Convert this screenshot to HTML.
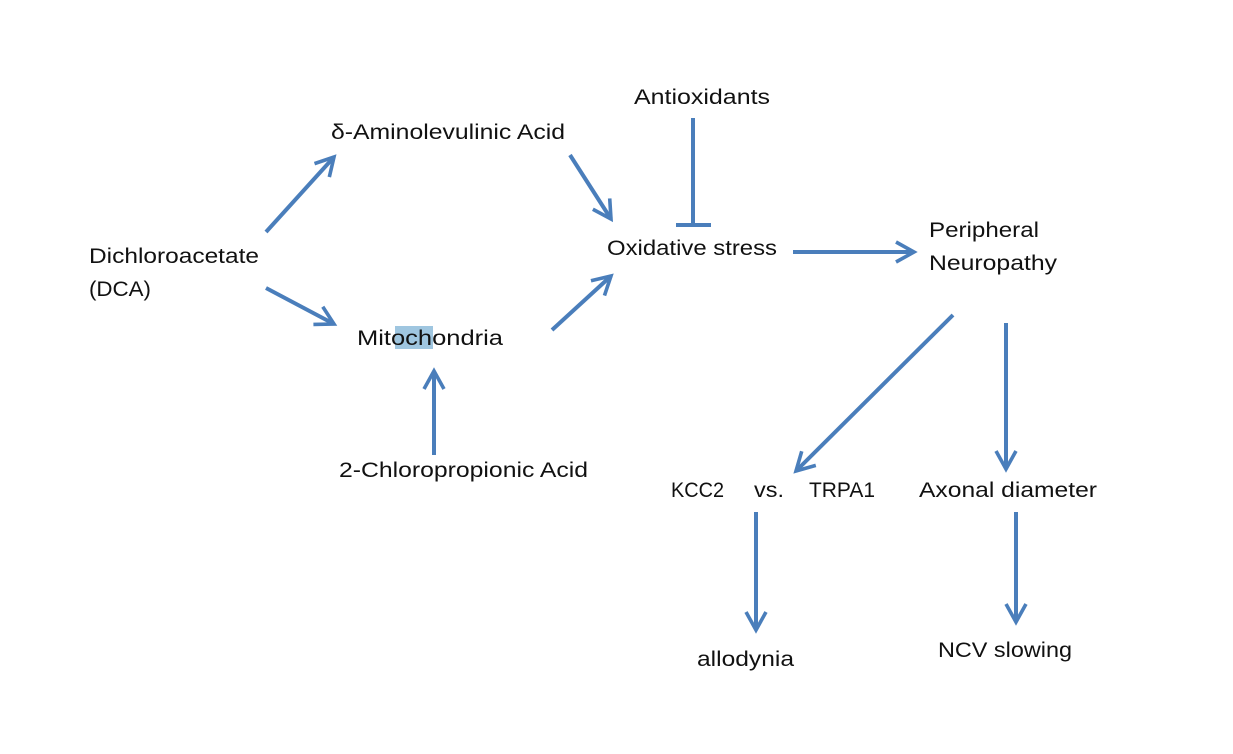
<!DOCTYPE html>
<html><head><meta charset="utf-8"><style>html,body{margin:0;padding:0;background:#fff}</style></head>
<body>
<svg width="1233" height="749" viewBox="0 0 1233 749" xmlns="http://www.w3.org/2000/svg">
<defs>
<marker id="a" viewBox="0 0 12 12" refX="10" refY="6" markerWidth="6" markerHeight="6" orient="auto" markerUnits="strokeWidth">
<path d="M1,1 L10,6 L1,11" fill="none" stroke="#4a7ebb" stroke-width="1.8"/>
</marker>
</defs>
<rect x="395" y="326" width="38" height="23" fill="#9fc6e0"/>
<g stroke="#4a7ebb" stroke-width="4" fill="none" marker-end="url(#a)">
<line x1="266" y1="232" x2="334" y2="157"/>
<line x1="266" y1="288" x2="334" y2="324"/>
<line x1="570" y1="155" x2="611" y2="219"/>
<line x1="552" y1="330" x2="611" y2="276"/>
<line x1="793" y1="252" x2="914" y2="252"/>
<line x1="953" y1="315" x2="796" y2="471"/>
<line x1="1006" y1="323" x2="1006" y2="469"/>
<line x1="434" y1="455" x2="434" y2="371"/>
<line x1="756" y1="512" x2="756" y2="630"/>
<line x1="1016" y1="512" x2="1016" y2="622"/>
</g>
<g stroke="#4a7ebb" stroke-width="4">
<line x1="693" y1="118" x2="693" y2="225"/>
<line x1="676" y1="225" x2="711" y2="225"/>
</g>
<g font-family="Liberation Sans, sans-serif" font-size="21" fill="#111">
<text x="634" y="104" textLength="136" lengthAdjust="spacingAndGlyphs">Antioxidants</text>
<text x="331" y="139" textLength="234" lengthAdjust="spacingAndGlyphs">δ-Aminolevulinic Acid</text>
<text x="89" y="263" textLength="170" lengthAdjust="spacingAndGlyphs">Dichloroacetate</text>
<text x="89" y="296" textLength="62" lengthAdjust="spacingAndGlyphs">(DCA)</text>
<text x="607" y="255" textLength="170" lengthAdjust="spacingAndGlyphs">Oxidative stress</text>
<text x="929" y="237" textLength="110" lengthAdjust="spacingAndGlyphs">Peripheral</text>
<text x="929" y="270" textLength="128" lengthAdjust="spacingAndGlyphs">Neuropathy</text>
<text x="357" y="345" textLength="146" lengthAdjust="spacingAndGlyphs">Mitochondria</text>
<text x="339" y="477" textLength="249" lengthAdjust="spacingAndGlyphs">2-Chloropropionic Acid</text>
<text x="671" y="497" textLength="53" lengthAdjust="spacingAndGlyphs">KCC2</text>
<text x="754" y="497" textLength="30" lengthAdjust="spacingAndGlyphs">vs.</text>
<text x="809" y="497" textLength="66" lengthAdjust="spacingAndGlyphs">TRPA1</text>
<text x="919" y="497" textLength="178" lengthAdjust="spacingAndGlyphs">Axonal diameter</text>
<text x="697" y="666" textLength="97" lengthAdjust="spacingAndGlyphs">allodynia</text>
<text x="938" y="657" textLength="134" lengthAdjust="spacingAndGlyphs">NCV slowing</text>
</g>
</svg>
</body></html>
